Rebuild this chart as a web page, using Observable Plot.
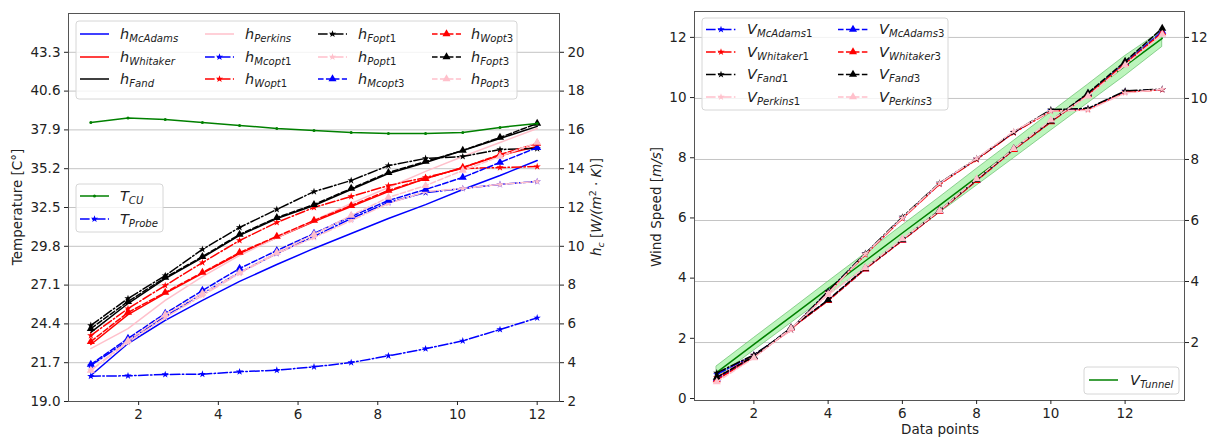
<!DOCTYPE html>
<html><head><meta charset="utf-8">
<script src="https://cdn.jsdelivr.net/npm/d3@7"></script>
<script src="https://cdn.jsdelivr.net/npm/@observablehq/plot@0.6"></script>
<style>
body{margin:0;background:#fff;font-family:"DejaVu Sans",sans-serif;}
#wrap{position:relative;width:1208px;height:440px;overflow:hidden;}
#wrap svg{position:absolute;top:0;}
</style></head><body><div id="wrap"></div>
<script>
// ---------- data: left panel ----------
const xLeft = [0.8, 1.733, 2.667, 3.6, 4.533, 5.467, 6.4, 7.333, 8.267, 9.2, 10.133, 11.067, 12.0];
const tempTicks = [19.0, 21.7, 24.4, 27.1, 29.8, 32.5, 35.2, 37.9, 40.6, 43.3];
const hTicks = [2, 4, 6, 8, 10, 12, 14, 16, 18, 20];
const xTicksLeft = [2, 4, 6, 8, 10, 12];
// temperatures [°C]
const T_CU = [38.42, 38.72, 38.62, 38.42, 38.21, 38.00, 37.86, 37.72, 37.65, 37.65, 37.72, 38.07, 38.35];
const T_Probe = [20.76, 20.79, 20.88, 20.90, 21.07, 21.18, 21.41, 21.71, 22.18, 22.67, 23.22, 24.01, 24.82];
// heat transfer coefficients [W/(m²K)]
const hMcAdams = [3.34, 4.99, 6.18, 7.21, 8.19, 9.06, 9.89, 10.66, 11.43, 12.15, 12.93, 13.65, 14.42];
const hWhitaker = [4.94, 6.48, 7.57, 8.60, 9.63, 10.45, 11.28, 12.05, 12.82, 13.49, 14.06, 14.68, 15.14];
const hFand = [5.56, 7.05, 8.34, 9.42, 10.56, 11.43, 12.10, 12.93, 13.75, 14.32, 14.94, 15.56, 16.18];
const hPerkins = [4.73, 5.76, 7.21, 8.44, 9.53, 10.45, 11.33, 12.21, 13.03, 13.86, 14.63, 15.35, 16.07];
const hMcopt1 = [3.86, 5.14, 6.38, 7.57, 8.65, 9.63, 10.51, 11.43, 12.26, 12.77, 12.98, 13.19, 13.34];
const hWopt1 = [5.40, 6.79, 7.98, 9.16, 10.30, 11.23, 12.00, 12.57, 13.13, 13.55, 14.01, 14.06, 14.11];
const hFopt1 = [5.92, 7.31, 8.49, 9.84, 10.97, 11.90, 12.82, 13.39, 14.16, 14.53, 14.63, 14.99, 15.04];
const hPopt1 = [3.60, 5.04, 6.33, 7.46, 8.60, 9.63, 10.45, 11.33, 12.21, 12.82, 12.98, 13.19, 13.34];
const hMcopt3 = [3.91, 5.25, 6.54, 7.72, 8.86, 9.78, 10.66, 11.54, 12.36, 12.93, 13.55, 14.32, 15.09];
const hWopt3 = [5.09, 6.59, 7.62, 8.65, 9.68, 10.51, 11.33, 12.10, 12.88, 13.49, 14.06, 14.73, 15.30];
const hFopt3 = [5.76, 7.15, 8.39, 9.47, 10.61, 11.48, 12.15, 12.98, 13.80, 14.37, 14.94, 15.61, 16.33];
const hPopt3 = [3.60, 5.14, 6.48, 7.57, 8.65, 9.68, 10.61, 11.59, 12.52, 13.13, 13.91, 14.63, 15.35];

// ---------- data: right panel ----------
const xRight = [1, 2, 3, 4, 5, 6, 7, 8, 9, 10, 11, 12, 13];
const vTicks = [0, 2, 4, 6, 8, 10, 12];
const vTwinTicks = [2, 4, 6, 8, 10, 12];
const xTicksRight = [2, 4, 6, 8, 10, 12];
const vTunnel = [0.87, 1.80, 2.72, 3.65, 4.57, 5.50, 6.42, 7.35, 8.27, 9.20, 10.12, 11.05, 11.97];
const vTunnelLow = [0.67, 1.59, 2.50, 3.42, 4.33, 5.25, 6.16, 7.07, 7.98, 8.90, 9.81, 10.72, 11.68];
const vTunnelHigh = [1.07, 2.01, 2.94, 3.88, 4.81, 5.75, 6.68, 7.63, 8.56, 9.50, 10.43, 11.38, 12.22];
const vMcAdams1 = [0.80, 1.44, 2.29, 3.55, 4.80, 6.00, 7.14, 7.96, 8.84, 9.57, 9.62, 10.20, 10.27];
const vWhitaker1 = [0.70, 1.42, 2.28, 3.52, 4.78, 5.98, 7.12, 7.94, 8.83, 9.55, 9.60, 10.18, 10.26];
const vFand1 = [0.85, 1.45, 2.30, 3.57, 4.82, 6.03, 7.16, 7.97, 8.85, 9.60, 9.64, 10.22, 10.28];
const vPerkins1 = [0.60, 1.40, 2.27, 3.50, 4.80, 6.00, 7.15, 7.98, 8.88, 9.55, 9.58, 10.15, 10.28];
const vMcAdams3 = [0.65, 1.38, 2.34, 3.26, 4.31, 5.26, 6.23, 7.25, 8.28, 9.20, 10.12, 11.16, 12.20];
const vWhitaker3 = [0.62, 1.37, 2.33, 3.25, 4.30, 5.25, 6.22, 7.24, 8.27, 9.19, 10.10, 11.13, 12.15];
const vFand3 = [0.70, 1.40, 2.35, 3.28, 4.33, 5.28, 6.25, 7.27, 8.30, 9.22, 10.15, 11.20, 12.30];
const vPerkins3 = [0.55, 1.35, 2.33, 3.45, 4.35, 5.30, 6.24, 7.30, 8.30, 9.25, 10.05, 11.08, 12.10];

// ---------- styles ----------
const DASHDOT = "9.6,2.4,1.5,2.4", DASHED = "5.55,2.4";
const PINK = "#ffc0cb";
const toH = T => 2 + (T - 19) / 1.35;      // temperature -> hc axis units
const toT = h => 19 + (h - 2) * 1.35;

const leftSeries = [
  {main:"h", sub:"McAdams", v:hMcAdams, color:"blue", dash:null, sym:null},
  {main:"h", sub:"Whitaker", v:hWhitaker, color:"red", dash:null, sym:null},
  {main:"h", sub:"Fand", v:hFand, color:"black", dash:null, sym:null},
  {main:"h", sub:"Perkins", v:hPerkins, color:PINK, dash:null, sym:null},
  {main:"h", sub:"Mcopt1", v:hMcopt1, color:"blue", dash:DASHDOT, sym:"star"},
  {main:"h", sub:"Wopt1", v:hWopt1, color:"red", dash:DASHDOT, sym:"star"},
  {main:"h", sub:"Fopt1", v:hFopt1, color:"black", dash:DASHDOT, sym:"star"},
  {main:"h", sub:"Popt1", v:hPopt1, color:PINK, dash:DASHDOT, sym:"star"},
  {main:"h", sub:"Mcopt3", v:hMcopt3, color:"blue", dash:DASHED, sym:"triangle"},
  {main:"h", sub:"Wopt3", v:hWopt3, color:"red", dash:DASHED, sym:"triangle"},
  {main:"h", sub:"Fopt3", v:hFopt3, color:"black", dash:DASHED, sym:"triangle"},
  {main:"h", sub:"Popt3", v:hPopt3, color:PINK, dash:DASHED, sym:"triangle"},
];
const tempSeries = [
  {main:"T", sub:"CU", v:T_CU.map(toH), color:"green", dash:null, sym:"circle"},
  {main:"T", sub:"Probe", v:T_Probe.map(toH), color:"blue", dash:DASHDOT, sym:"star"},
];
const rightSeries = [
  {main:"V", sub:"McAdams1", v:vMcAdams1, color:"blue", dash:DASHDOT, sym:"star"},
  {main:"V", sub:"Whitaker1", v:vWhitaker1, color:"red", dash:DASHDOT, sym:"star"},
  {main:"V", sub:"Fand1", v:vFand1, color:"black", dash:DASHDOT, sym:"star"},
  {main:"V", sub:"Perkins1", v:vPerkins1, color:PINK, dash:DASHDOT, sym:"star"},
  {main:"V", sub:"McAdams3", v:vMcAdams3, color:"blue", dash:DASHED, sym:"triangle"},
  {main:"V", sub:"Whitaker3", v:vWhitaker3, color:"red", dash:DASHED, sym:"triangle"},
  {main:"V", sub:"Fand3", v:vFand3, color:"black", dash:DASHED, sym:"triangle"},
  {main:"V", sub:"Perkins3", v:vPerkins3, color:PINK, dash:DASHED, sym:"triangle"},
];
const symR = {star: 2.3, triangle: 3.0, circle: 1.5};

function seriesMarks(xs, s) {
  const rows = xs.map((x, i) => ({x, y: s.v[i]}));
  const m = [Plot.line(rows, {x:"x", y:"y", stroke:s.color, strokeWidth:1.5, strokeDasharray:s.dash})];
  if (s.sym) m.push(Plot.dot(rows, {x:"x", y:"y", symbol:s.sym, r:symR[s.sym], fill:s.color, stroke:"none"}));
  return m;
}

const baseStyle = {fontFamily:"'DejaVu Sans', sans-serif", fontSize:"13.5px", color:"#222", background:"transparent", overflow:"visible"};
const GRID = "#c4c4c4", FRAME = "#555";

// ---------- left plot ----------
const left = Plot.plot({
  width: 610, height: 440,
  marginLeft: 68, marginRight: 51, marginTop: 13, marginBottom: 39,
  x: {domain: [0.24, 12.56]},
  y: {domain: [2, 22]},
  style: baseStyle,
  marks: [
    Plot.ruleY(hTicks, {stroke: GRID, strokeWidth: 1}),
    ...leftSeries.flatMap(s => seriesMarks(xLeft, s)),
    ...tempSeries.flatMap(s => seriesMarks(xLeft, s)),
    Plot.frame({stroke: FRAME, strokeWidth: 1}),
    Plot.axisX(xTicksLeft, {tickSize: 4, tickPadding: 4, label: null, fontSize: 13.5}),
    Plot.axisY(tempTicks.map(toH), {anchor: "left", tickSize: 4, tickPadding: 4, label: null, fontSize: 13.5, tickFormat: h => toT(h).toFixed(1)}),
    Plot.axisY(hTicks, {anchor: "right", tickSize: 4, tickPadding: 4, label: null, fontSize: 13.5}),
  ]
});
left.style.left = "0px";

// ---------- right plot ----------
const vLo = -0.066, vHi = 12.86;
const twinLo = 0.10, twinHi = 12.85;
const twinToMain = w => vLo + (w - twinLo) * (vHi - vLo) / (twinHi - twinLo);
const mainToTwin = v => twinLo + (v - vLo) * (twinHi - twinLo) / (vHi - vLo);
const bandRows = xRight.map((x, i) => ({x, lo: vTunnelLow[i], hi: vTunnelHigh[i], v: vTunnel[i]}));
const right = Plot.plot({
  width: 598, height: 440,
  marginLeft: 84, marginRight: 24, marginTop: 11, marginBottom: 40,
  x: {domain: [0.4, 13.6]},
  y: {domain: [vLo, vHi]},
  style: baseStyle,
  marks: [
    Plot.ruleY(vTwinTicks.map(twinToMain), {stroke: GRID, strokeWidth: 1}),
    Plot.areaY(bandRows, {x: "x", y1: "lo", y2: "hi", fill: "#90ee90", fillOpacity: 0.6, stroke: "#4caf50", strokeWidth: 0.7, strokeOpacity: 0.8}),
    Plot.line(bandRows, {x: "x", y: "v", stroke: "green", strokeWidth: 1.5}),
    ...rightSeries.flatMap(s => seriesMarks(xRight, s)),
    Plot.frame({stroke: FRAME, strokeWidth: 1}),
    Plot.axisX(xTicksRight, {tickSize: 4, tickPadding: 4, label: null, fontSize: 13.5}),
    Plot.axisY(vTicks, {anchor: "left", tickSize: 4, tickPadding: 4, label: null, fontSize: 13.5}),
    Plot.axisY(vTwinTicks.map(twinToMain), {anchor: "right", tickSize: 4, tickPadding: 2, label: null, fontSize: 13.5, tickFormat: v => Math.round(mainToTwin(v))}),
  ]
});
right.style.left = "610px";

const wrap = document.getElementById("wrap");
wrap.appendChild(left);
wrap.appendChild(right);

// ---------- text helpers ----------
function mathText(g, x, y, main, sub, size) {
  const t = g.append("text").attr("x", x).attr("y", y).attr("font-size", size).attr("fill", "#222")
    .attr("text-anchor", "start").attr("font-family", "'DejaVu Sans', sans-serif");
  t.append("tspan").attr("font-style", "italic").text(main);
  const m = sub.match(/^(.*?)(\d*)$/);
  t.append("tspan").attr("font-style", "italic").attr("font-size", size * 0.7).attr("dy", size * 0.22).text(m[1]);
  if (m[2]) t.append("tspan").attr("font-size", size * 0.7).text(m[2]);
  return t;
}
const symbolTypes = {star: d3.symbolStar, triangle: d3.symbolTriangle, circle: d3.symbolCircle};
function legend(svg, box, items, size) {
  const g = d3.select(svg).append("g").attr("text-anchor", "start");
  g.append("rect").attr("x", box.x).attr("y", box.y).attr("width", box.w).attr("height", box.h)
    .attr("rx", 3).attr("fill", "white").attr("fill-opacity", 0.8).attr("stroke", "#d6d6d6");
  for (const it of items) {
    const s = it.s;
    g.append("line").attr("x1", it.lx).attr("x2", it.lx + it.len).attr("y1", it.y).attr("y2", it.y)
      .attr("stroke", s.color).attr("stroke-width", 1.5).attr("stroke-dasharray", s.dash);
    if (s.sym) {
      const r = symR[s.sym];
      g.append("path").attr("d", d3.symbol(symbolTypes[s.sym], r * r * Math.PI)())
        .attr("transform", `translate(${it.lx + it.len / 2},${it.y})`).attr("fill", s.color);
    }
    mathText(g, it.tx, it.y + size * 0.33, s.main, s.sub, size);
  }
}

// left legends
{
  const cols = [[80, 120], [205, 245], [318, 358], [432, 471]];
  const rows = [34, 57, 79];
  legend(left, {x: 76, y: 21, w: 441, h: 78},
    leftSeries.map((s, i) => ({s, lx: cols[Math.floor(i / 3)][0], tx: cols[Math.floor(i / 3)][1], y: rows[i % 3], len: 29})), 14.5);
  legend(left, {x: 76, y: 184, w: 87, h: 48},
    tempSeries.map((s, i) => ({s, lx: 80, tx: 120, y: [196, 219][i], len: 29})), 14.5);
  const svg = d3.select(left);
  svg.append("text").attr("transform", "translate(22,207) rotate(-90)").attr("text-anchor", "middle")
    .attr("font-size", 13.5).attr("fill", "#222").text("Temperature [C°]");
  const hl = svg.append("text").attr("transform", "translate(601,207) rotate(-90)").attr("text-anchor", "middle")
    .attr("font-size", 13.5).attr("fill", "#222");
  hl.append("tspan").attr("font-style", "italic").text("h");
  hl.append("tspan").attr("font-style", "italic").attr("font-size", 9.5).attr("dy", 3).text("c");
  hl.append("tspan").attr("dy", -3).text(" [");
  hl.append("tspan").attr("font-style", "italic").text("W/(m");
  hl.append("tspan").attr("font-size", 9.5).attr("dy", -5).text("2");
  hl.append("tspan").attr("dy", 5).text(" · ");
  hl.append("tspan").attr("font-style", "italic").text("K");
  hl.append("tspan").text(")]");
}
// right legends
{
  const cols = [[706 - 610, 747 - 610], [838 - 610, 879 - 610]];
  const rows = [29.5, 52, 74.5, 97];
  legend(right, {x: 702 - 610, y: 18, w: 246, h: 92},
    rightSeries.map((s, i) => ({s, lx: cols[Math.floor(i / 4)][0], tx: cols[Math.floor(i / 4)][1], y: rows[i % 4], len: 30})), 14.5);
  legend(right, {x: 1084 - 610, y: 367, w: 95, h: 27},
    [{s: {main: "V", sub: "Tunnel", color: "green", dash: null, sym: null}, lx: 1089 - 610, tx: 1130 - 610, y: 380, len: 29}], 14.5);
  const svg = d3.select(right);
  const wl = svg.append("text").attr("transform", "translate(51,207) rotate(-90)").attr("text-anchor", "middle")
    .attr("font-size", 13.5).attr("fill", "#222");
  wl.append("tspan").text("Wind Speed [");
  wl.append("tspan").attr("font-style", "italic").text("m/s");
  wl.append("tspan").text("]");
  svg.append("text").attr("x", 940 - 610).attr("y", 434).attr("text-anchor", "middle")
    .attr("font-size", 13.5).attr("fill", "#222").text("Data points");
}
</script>
</body></html>
